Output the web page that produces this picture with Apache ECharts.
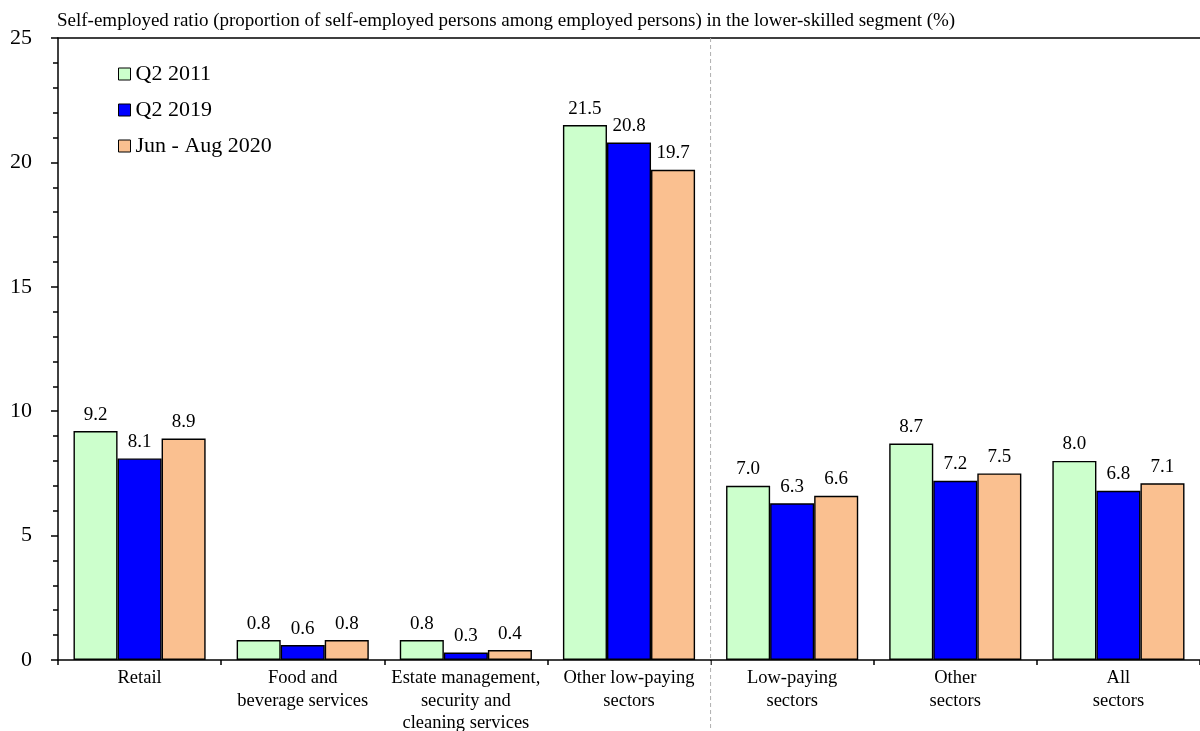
<!DOCTYPE html>
<html>
<head>
<meta charset="utf-8">
<style>
  html, body { margin: 0; padding: 0; background: #fff; }
  #chart { width: 1200px; height: 731px; }
</style>
<script src="https://cdn.jsdelivr.net/npm/echarts@6/dist/echarts.min.js"></script>
</head>
<body>
<div id="chart"></div>
<script>
// Sector groups along the horizontal axis
const categories = [
  'Retail',
  'Food and\nbeverage services',
  'Estate management,\nsecurity and\ncleaning services',
  'Other low-paying\nsectors',
  'Low-paying\nsectors',
  'Other\nsectors',
  'All\nsectors'
];

// Self-employed ratio (%) by period
const q2_2011 = [9.2, 0.8, 0.8, 21.5, 7.0, 8.7, 8.0];
const q2_2019 = [8.1, 0.6, 0.3, 20.8, 6.3, 7.2, 6.8];
const jun_aug_2020 = [8.9, 0.8, 0.4, 19.7, 6.6, 7.5, 7.1];

const seriesNames = ['Q2 2011', 'Q2 2019', 'Jun - Aug 2020'];
const seriesColors = ['#CCFFCC', '#0000FF', '#FAC090'];

// Separator between the individual sectors and the aggregates
const separatorAfter = 4;

const yTicks = { min: 0, max: 25, interval: 5 };

const titleText = 'Self-employed ratio (proportion of self-employed persons among employed persons) in the lower-skilled segment (%)';

const FONT = '"Liberation Serif", "Times New Roman", serif';

const chart = echarts.init(document.getElementById('chart'), null, { renderer: 'canvas' });

function barSeries(name, data, color) {
  return {
    name: name,
    type: 'bar',
    data: data,
    barGap: '0%',
    barCategoryGap: '19%',
    itemStyle: { color: color, borderColor: '#000', borderWidth: 1.4 },
    label: {
      show: true,
      position: 'top',
      distance: 7,
      fontFamily: FONT,
      fontSize: 19,
      color: '#000',
      formatter: p => p.value.toFixed(1)
    },
    emphasis: { disabled: true }
  };
}

chart.setOption({
  animation: false,
  backgroundColor: '#fff',
  textStyle: { fontFamily: FONT },
  title: {
    text: titleText,
    left: 52,
    top: 7,
    textStyle: { fontFamily: FONT, fontSize: 19, fontWeight: 'normal', color: '#000' }
  },
  legend: {
    orient: 'vertical',
    left: 113,
    top: 58,
    itemWidth: 12,
    itemHeight: 12,
    itemGap: 14,
    icon: 'rect',
    data: seriesNames,
    itemStyle: { borderColor: '#000', borderWidth: 1 },
    textStyle: { fontFamily: FONT, fontSize: 22, color: '#000' }
  },
  grid: { left: 58, right: 0, top: 38, bottom: 71, containLabel: false, outerBoundsMode: 'none' },
  xAxis: [
    {
      type: 'category',
      data: categories,
      axisLine: { show: true, lineStyle: { color: '#000', width: 1.5 } },
      axisTick: { show: true, alignWithLabel: false, length: 5, lineStyle: { color: '#000', width: 1.5 } },
      axisLabel: {
        interval: 0,
        margin: 7,
        fontFamily: FONT,
        fontSize: 18.5,
        lineHeight: 22.5,
        color: '#000'
      }
    },
    {
      // Positional axis used for the frame top and the separator line
      type: 'value',
      position: 'top',
      min: 0,
      max: categories.length,
      axisLine: { show: true, onZero: false, lineStyle: { color: '#000', width: 1.5 } },
      axisTick: { show: false },
      axisLabel: { show: false },
      splitLine: { show: false }
    }
  ],
  yAxis: {
    type: 'value',
    min: yTicks.min,
    max: yTicks.max,
    interval: yTicks.interval,
    axisLine: { show: true, lineStyle: { color: '#000', width: 1.5 } },
    axisTick: { show: true, length: 7, lineStyle: { color: '#000', width: 1.5 } },
    minorTick: { show: true, splitNumber: 5, length: 5, lineStyle: { color: '#000', width: 1.5 } },
    splitLine: { show: false },
    axisLabel: { fontFamily: FONT, fontSize: 22, color: '#000', margin: 26 }
  },
  series: [
    barSeries(seriesNames[0], q2_2011, seriesColors[0]),
    barSeries(seriesNames[1], q2_2019, seriesColors[1]),
    barSeries(seriesNames[2], jun_aug_2020, seriesColors[2])
  ]
});

// Dashed separator, positioned through the positional axis, running below the plot
const sepX = chart.convertToPixel({ xAxisIndex: 1 }, separatorAfter);
const topY = chart.convertToPixel({ yAxisIndex: 0 }, yTicks.max);
chart.setOption({
  graphic: [{
    type: 'line',
    shape: { x1: sepX, y1: topY, x2: sepX, y2: chart.getHeight() },
    style: { stroke: '#AFAFAF', lineWidth: 1, lineDash: [4, 3] },
    silent: true,
    z: 1
  }]
});
</script>
</body>
</html>
